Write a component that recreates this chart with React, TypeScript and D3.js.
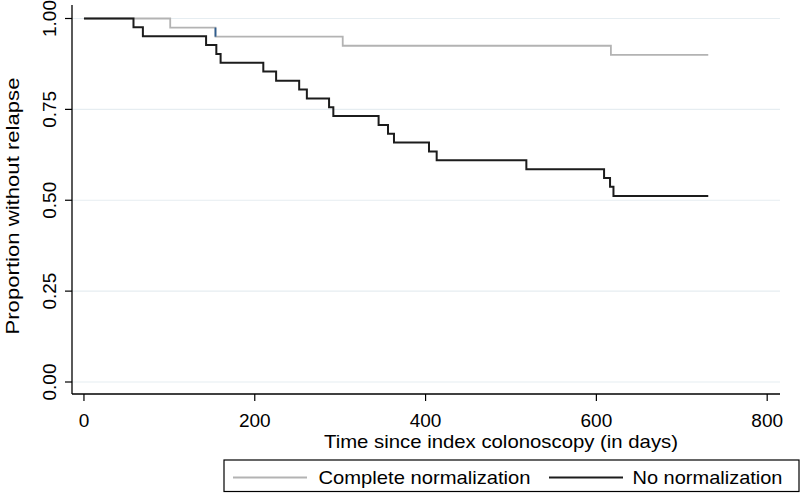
import React from "react";
import * as d3 from "d3";

const noNormTimes = [0, 58, 69, 143, 155, 160, 210, 225, 252, 261, 287, 292, 345, 356, 363, 404, 413, 518, 609, 616, 620, 731];
const noNormSurv = [1.0, 0.976, 0.951, 0.927, 0.902, 0.878, 0.854, 0.829, 0.805, 0.780, 0.756, 0.732, 0.707, 0.683, 0.659, 0.634, 0.610, 0.585, 0.561, 0.537, 0.512, 0.512];

const completeTimes = [0, 101, 154, 303, 617, 731];
const completeSurv = [1.0, 0.975, 0.95, 0.925, 0.90, 0.90];

const xTicks = [0, 200, 400, 600, 800];
const yTicks = [0, 0.25, 0.5, 0.75, 1.0];
const yTickLabels = ["0.00", "0.25", "0.50", "0.75", "1.00"];

const seriesNames = ["Complete normalization", "No normalization"];

const W = 800;
const H = 493;
const FONT = "'Liberation Sans', Arial, Helvetica, sans-serif";

export default function App() {
  const x = d3.scaleLinear().domain([-14, 815]).range([72, 780]);
  const y = d3.scaleLinear().domain([0, 1]).range([382, 18.5]);

  const line = d3
    .line<[number, number]>()
    .x((d) => x(d[0]))
    .y((d) => y(d[1]))
    .curve(d3.curveStepAfter);

  const grayData = completeTimes.map((t, i) => [t, completeSurv[i]] as [number, number]);
  const blackData = noNormTimes.map((t, i) => [t, noNormSurv[i]] as [number, number]);

  const axisY = 394;
  const axisX = 72;

  return (
    <svg
      width={W}
      height={H}
      style={{ position: "absolute", left: 0, top: 0, background: "#fff" }}
      fontFamily={FONT}
    >
      <rect x={0} y={0} width={W} height={H} fill="#fff" />
      {/* gridlines */}
      {yTicks.map((t) => (
        <line key={"g" + t} x1={axisX} x2={780} y1={y(t)} y2={y(t)} stroke="#e6edf1" strokeWidth={1.2} />
      ))}
      {/* curves */}
      <path d={line(grayData) || ""} fill="none" stroke="#b3b3b3" strokeWidth={1.8} />
      <line
        x1={x(completeTimes[2])}
        x2={x(completeTimes[2])}
        y1={y(completeSurv[1])}
        y2={y(completeSurv[2])}
        stroke="#2f5d8f"
        strokeWidth={1.8}
      />
      <path d={line(blackData) || ""} fill="none" stroke="#1c1c1c" strokeWidth={2} />
      {/* axes */}
      <line x1={axisX} x2={axisX} y1={5} y2={axisY} stroke="#000" strokeWidth={1.3} />
      <line x1={axisX} x2={780} y1={axisY} y2={axisY} stroke="#000" strokeWidth={1.3} />
      {yTicks.map((t, i) => (
        <g key={"yt" + t}>
          <line x1={65} x2={axisX} y1={y(t)} y2={y(t)} stroke="#000" strokeWidth={1.2} />
          <text
            transform={`translate(56,${y(t)}) rotate(-90)`}
            textAnchor="middle"
            fontSize={19}
            fill="#000"
          >
            {yTickLabels[i]}
          </text>
        </g>
      ))}
      {xTicks.map((t) => (
        <g key={"xt" + t}>
          <line x1={x(t)} x2={x(t)} y1={axisY} y2={axisY + 7} stroke="#000" strokeWidth={1.2} />
          <text x={x(t)} y={426.5} textAnchor="middle" fontSize={19} fill="#000">
            {t}
          </text>
        </g>
      ))}
      <text x={501} y={447.5} textAnchor="middle" fontSize={19} fill="#000" textLength={354} lengthAdjust="spacingAndGlyphs">
        Time since index colonoscopy (in days)
      </text>
      <text
        transform={`translate(19,206) rotate(-90)`}
        textAnchor="middle"
        fontSize={19}
        fill="#000"
        textLength={257}
        lengthAdjust="spacingAndGlyphs"
      >
        Proportion without relapse
      </text>
      {/* legend */}
      <rect x={224} y={460} width={575} height={31.5} fill="#fff" stroke="#000" strokeWidth={1.2} />
      <line x1={233} x2={307} y1={477.5} y2={477.5} stroke="#b3b3b3" strokeWidth={1.8} />
      <text x={318.5} y={483.5} fontSize={19} fill="#000" textLength={212} lengthAdjust="spacingAndGlyphs">
        {seriesNames[0]}
      </text>
      <line x1={549} x2={623} y1={477.5} y2={477.5} stroke="#1c1c1c" strokeWidth={2} />
      <text x={632.5} y={483.5} fontSize={19} fill="#000" textLength={150} lengthAdjust="spacingAndGlyphs">
        {seriesNames[1]}
      </text>
    </svg>
  );
}
